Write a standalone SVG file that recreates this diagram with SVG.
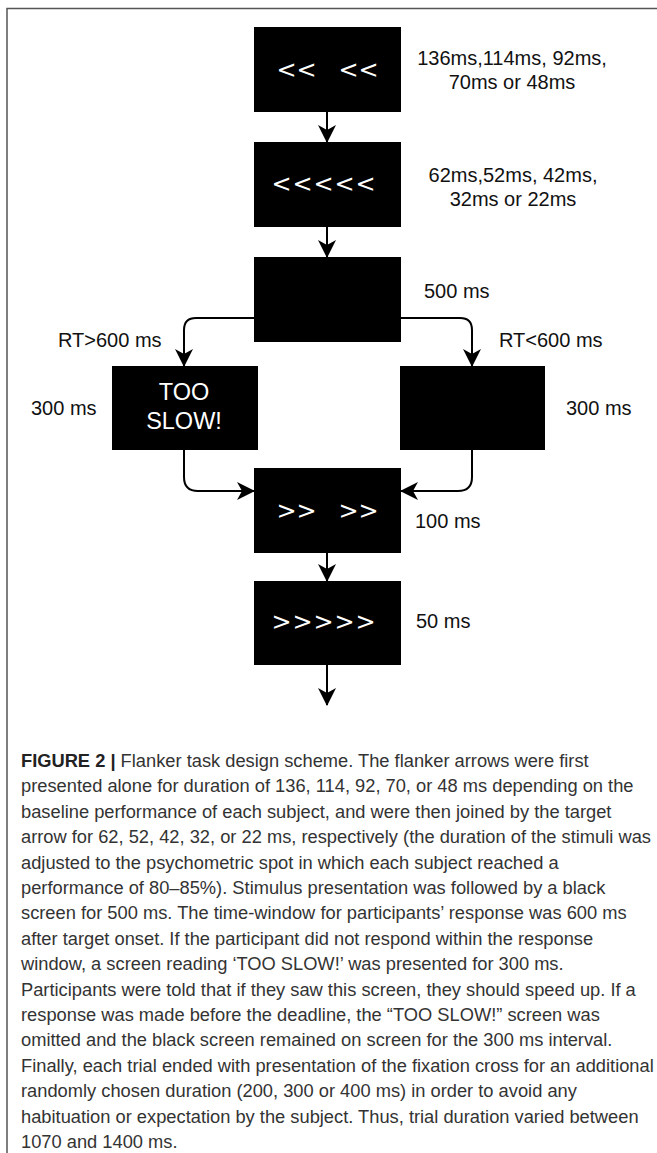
<svg xmlns="http://www.w3.org/2000/svg" width="657" height="1153" viewBox="0 0 657 1153">
<style>
.box{fill:#000}
.chev{font-family:"DejaVu Sans",sans-serif;font-size:24px;fill:#fff}
.lbl{font-family:"Liberation Sans",Arial,sans-serif;font-size:20px;fill:#111}
.big{font-family:"Liberation Sans",Arial,sans-serif;font-size:23.5px;fill:#fff;text-anchor:middle}
.edge{fill:none;stroke:#000;stroke-width:2;marker-end:url(#ah)}
.cap{font-family:"Liberation Sans",Arial,sans-serif;font-size:18.3px;fill:#333}
</style>
<defs>
<marker id="ah" markerUnits="userSpaceOnUse" viewBox="0 0 18 18" markerWidth="18" markerHeight="18" refX="17" refY="9" orient="auto">
<path d="M0,0 L18,9 L0,18 L5,9 Z" fill="#000"/>
</marker>
</defs>
<rect width="657" height="1153" fill="#fff"/>
<path d="M7,1153 V8.5 H657" fill="none" stroke="#555" stroke-width="1.5"/>

<g id="connectors">
<path class="edge" d="M327,112 V142"/>
<path class="edge" d="M327,227 V257"/>
<path class="edge" d="M255,318 H196 Q184,318 184,330 V366"/>
<path class="edge" d="M401,318 H460 Q472,318 472,330 V366"/>
<path class="edge" d="M184,450 V477 Q184,491 198,491 H254"/>
<path class="edge" d="M472,450 V477 Q472,491 458,491 H401"/>
<path class="edge" d="M327,553 V581"/>
<path class="edge" d="M327,665 V705"/>
</g>

<g id="n1">
<rect class="box" x="254" y="27" width="147" height="85"/>
<text class="chev" xml:space="preserve" x="276.5 296.5 320 330 338.5 358.5" y="78">&lt;&lt;  &lt;&lt;</text>
<text class="lbl" text-anchor="middle" x="512" y="65">136ms,114ms, 92ms,</text>
<text class="lbl" text-anchor="middle" x="512" y="89">70ms or 48ms</text>
</g>

<g id="n2">
<rect class="box" x="254" y="142" width="147" height="85"/>
<text class="chev" x="271.5 292.5 313.5 334.5 355.5" y="192">&lt;&lt;&lt;&lt;&lt;</text>
<text class="lbl" text-anchor="middle" x="513" y="182">62ms,52ms, 42ms,</text>
<text class="lbl" text-anchor="middle" x="513" y="206">32ms or 22ms</text>
</g>

<g id="n3">
<rect class="box" x="254" y="257" width="147" height="85"/>
<text class="lbl" x="424" y="298">500 ms</text>
</g>

<g id="n4">
<rect class="box" x="112" y="366" width="146" height="84"/>
<text class="big" x="184" y="400">TOO</text>
<text class="big" x="184" y="429">SLOW!</text>
<text class="lbl" x="31" y="415">300 ms</text>
<text class="lbl" x="58" y="347">RT&gt;600 ms</text>
</g>

<g id="n5">
<rect class="box" x="400" y="366" width="145" height="84"/>
<text class="lbl" x="566" y="415">300 ms</text>
<text class="lbl" x="499" y="347">RT&lt;600 ms</text>
</g>

<g id="n6">
<rect class="box" x="254" y="468" width="147" height="85"/>
<text class="chev" xml:space="preserve" x="276.5 296.5 320 330 338.5 358.5" y="519">&gt;&gt;  &gt;&gt;</text>
<text class="lbl" x="415" y="528">100 ms</text>
</g>

<g id="n7">
<rect class="box" x="254" y="581" width="147" height="84"/>
<text class="chev" x="271.5 292.5 313.5 334.5 355.5" y="630">&gt;&gt;&gt;&gt;&gt;</text>
<text class="lbl" x="416" y="628">50 ms</text>
</g>

<g id="caption" class="cap">
<text x="21" y="767"><tspan font-weight="bold" fill="#222">FIGURE 2 |</tspan> Flanker task design scheme. The flanker arrows were first</text>
<text x="21" y="792.4">presented alone for duration of 136, 114, 92, 70, or 48 ms depending on the</text>
<text x="21" y="817.8">baseline performance of each subject, and were then joined by the target</text>
<text x="21" y="843.2">arrow for 62, 52, 42, 32, or 22 ms, respectively (the duration of the stimuli was</text>
<text x="21" y="868.6">adjusted to the psychometric spot in which each subject reached a</text>
<text x="21" y="894">performance of 80–85%). Stimulus presentation was followed by a black</text>
<text x="21" y="919.4">screen for 500 ms. The time-window for participants’ response was 600 ms</text>
<text x="21" y="944.8">after target onset. If the participant did not respond within the response</text>
<text x="21" y="970.2">window, a screen reading ‘TOO SLOW!’ was presented for 300 ms.</text>
<text x="21" y="995.6">Participants were told that if they saw this screen, they should speed up. If a</text>
<text x="21" y="1021">response was made before the deadline, the “TOO SLOW!” screen was</text>
<text x="21" y="1046.4">omitted and the black screen remained on screen for the 300 ms interval.</text>
<text x="21" y="1071.8">Finally, each trial ended with presentation of the fixation cross for an additional</text>
<text x="21" y="1097.2">randomly chosen duration (200, 300 or 400 ms) in order to avoid any</text>
<text x="21" y="1122.6">habituation or expectation by the subject. Thus, trial duration varied between</text>
<text x="21" y="1148">1070 and 1400 ms.</text>
</g>
</svg>
